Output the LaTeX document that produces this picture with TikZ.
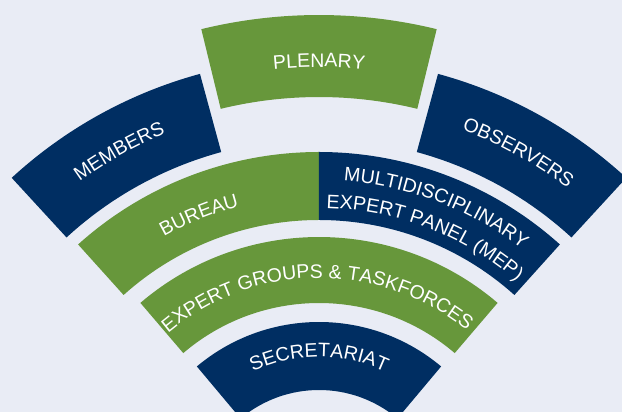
\documentclass[tikz,border=0pt]{standalone}
\usepackage{fontspec}
\setmainfont{Liberation Sans}
\usetikzlibrary{decorations.text}

\definecolor{bgcol}{HTML}{E9ECF5}
\definecolor{leafgreen}{HTML}{67973B}
\definecolor{navyblue}{HTML}{002E62}
\newcommand{\bandfont}{\color{white}\fontsize{19.5}{22}\selectfont}

\begin{document}
\begin{tikzpicture}[x=1pt, y=1pt]
	\useasboundingbox (-319, 100) rectangle (303, 512);
	\fill[bgcol] (-319, 100) rectangle (303, 512);

	\begin{scope}
		\tikzstyle{green band}=[fill=leafgreen]
		\tikzstyle{blue band}=[fill=navyblue]
		\tikzstyle{band label}=[decorate, decoration={text along path, text align=center}]

		% top row
		\fill[green band] (76.3:415) arc[start angle=76.3, end angle=103.7, radius=415] -- (103.7:497) arc[start angle=103.7, end angle=76.3, radius=497] -- cycle;
		\fill[blue band] (105.2:373) arc[start angle=105.2, end angle=132.6, radius=373] -- (132.6:454) arc[start angle=132.6, end angle=105.2, radius=454] -- cycle;
		\fill[blue band] (47.4:373) arc[start angle=47.4, end angle=74.8, radius=373] -- (74.8:454) arc[start angle=74.8, end angle=47.4, radius=454] -- cycle;

		% middle rows
		\fill[green band] (90:292) arc[start angle=90, end angle=132, radius=292] -- (132:360) arc[start angle=132, end angle=90, radius=360] -- cycle;
		\fill[blue band] (48:292) arc[start angle=48, end angle=90, radius=292] -- (90:360) arc[start angle=90, end angle=48, radius=360] -- cycle;
		\fill[green band] (49.5:209) arc[start angle=49.5, end angle=130.5, radius=209] -- (130.5:275) arc[start angle=130.5, end angle=49.5, radius=275] -- cycle;
		\fill[blue band] (50:122) arc[start angle=50, end angle=130, radius=122] -- (130:190) arc[start angle=130, end angle=50, radius=190] -- cycle;

		% labels
		\path[band label, decoration={text={|\bandfont|PLENARY}}] (103:445) arc[start angle=103, end angle=77, radius=445];
		\path[band label, decoration={text={|\bandfont|MEMBERS}}] (132:408) arc[start angle=132, end angle=106, radius=408];
		\path[band label, decoration={text={|\bandfont|OBSERVERS}}] (74:408) arc[start angle=74, end angle=48, radius=408];
		\path[band label, decoration={text={|\bandfont|BUREAU}}] (131:316) arc[start angle=131, end angle=93, radius=316];
		\path[band label, decoration={text={|\bandfont|MULTIDISCIPLINARY}}] (90:332) arc[start angle=90, end angle=48, radius=332];
		\path[band label, decoration={text={|\bandfont|EXPERT PANEL (MEP)}}] (90:304) arc[start angle=90, end angle=48, radius=304];
		\path[band label, decoration={text={|\bandfont|EXPERT GROUPS {\&} TASKFORCES}}] (132:234) arc[start angle=132, end angle=49, radius=234];
		\path[band label, decoration={text={|\bandfont|SECRETARIAT}}] (129:155) arc[start angle=129, end angle=51, radius=155];
	\end{scope}
\end{tikzpicture}
\end{document}
